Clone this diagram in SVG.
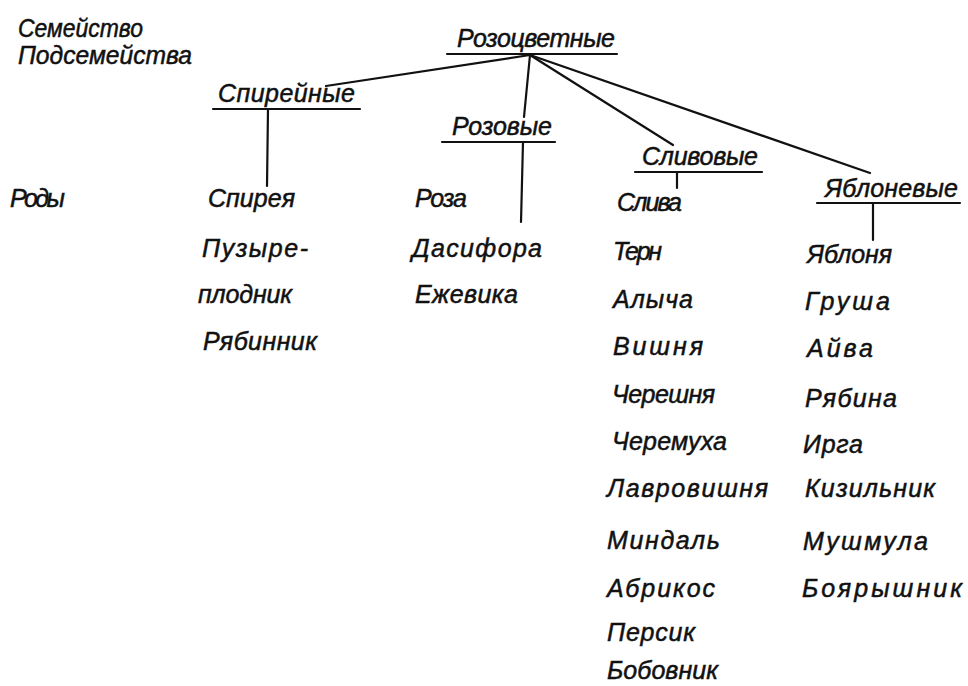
<svg xmlns="http://www.w3.org/2000/svg" width="968" height="686" viewBox="0 0 968 686">
<style>
text{font-family:"Liberation Sans",Arial,sans-serif;font-style:italic;font-size:25px;fill:#111;stroke:#111;stroke-width:0.5}
.ln{stroke:#111;stroke-width:2.2;fill:none;stroke-linecap:round}
</style>
<rect width="968" height="686" fill="#fff"/>
<g id="labels">
<text x="18" y="37" textLength="125" lengthAdjust="spacingAndGlyphs">Семейство</text>
<text x="18" y="64" textLength="174" lengthAdjust="spacingAndGlyphs">Подсемейства</text>
<text x="10" y="207" textLength="55" lengthAdjust="spacing">Роды</text>
</g>
<g id="connectors">
<line class="ln" x1="447" y1="54" x2="617" y2="54"/>
<line class="ln" x1="530" y1="55" x2="326" y2="86"/>
<line class="ln" x1="530" y1="55" x2="524" y2="117"/>
<line class="ln" x1="530" y1="55" x2="673" y2="145"/>
<line class="ln" x1="530" y1="55" x2="870" y2="173"/>
<line class="ln" x1="213" y1="109" x2="360" y2="109"/>
<line class="ln" x1="268" y1="109" x2="267" y2="186"/>
<line class="ln" x1="442" y1="142" x2="555" y2="142"/>
<line class="ln" x1="523" y1="142" x2="521" y2="222"/>
<line class="ln" x1="635" y1="172" x2="762" y2="172"/>
<line class="ln" x1="677" y1="172" x2="677" y2="188"/>
<line class="ln" x1="817" y1="203" x2="960" y2="203"/>
<line class="ln" x1="873" y1="203" x2="873" y2="240"/>
</g>
<g id="n-rosaceae"><text x="457" y="47" textLength="158" lengthAdjust="spacing">Розоцветные</text></g>
<g id="n-spiraeoideae"><text x="218" y="102" textLength="137" lengthAdjust="spacing">Спирейные</text></g>
<g id="n-rosoideae"><text x="452" y="135" textLength="100" lengthAdjust="spacing">Розовые</text></g>
<g id="n-prunoideae"><text x="642" y="165" textLength="116" lengthAdjust="spacing">Сливовые</text></g>
<g id="n-maloideae"><text x="825" y="197" textLength="133" lengthAdjust="spacing">Яблоневые</text></g>
<g id="g-spiraea">
<text x="208" y="207" textLength="87" lengthAdjust="spacing">Спирея</text>
<text x="202" y="257" textLength="106" lengthAdjust="spacing">Пузыре-</text>
<text x="198" y="303" textLength="94" lengthAdjust="spacing">плодник</text>
<text x="203" y="350" textLength="114" lengthAdjust="spacing">Рябинник</text>
</g>
<g id="g-rosa">
<text x="415" y="207" textLength="52" lengthAdjust="spacing">Роза</text>
<text x="412" y="257" textLength="130" lengthAdjust="spacing">Дасифора</text>
<text x="415" y="303" textLength="103" lengthAdjust="spacing">Ежевика</text>
</g>
<g id="g-prunus">
<text x="617" y="211" textLength="65" lengthAdjust="spacing">Слива</text>
<text x="613" y="260" textLength="49" lengthAdjust="spacing">Терн</text>
<text x="613" y="308" textLength="80" lengthAdjust="spacing">Алыча</text>
<text x="613" y="355" textLength="90" lengthAdjust="spacing">Вишня</text>
<text x="612" y="403" textLength="103" lengthAdjust="spacing">Черешня</text>
<text x="612" y="450" textLength="115" lengthAdjust="spacing">Черемуха</text>
<text x="607" y="497" textLength="161" lengthAdjust="spacing">Лавровишня</text>
<text x="607" y="549" textLength="113" lengthAdjust="spacing">Миндаль</text>
<text x="607" y="597" textLength="108" lengthAdjust="spacing">Абрикос</text>
<text x="607" y="641" textLength="88" lengthAdjust="spacing">Персик</text>
<text x="607" y="679" textLength="111" lengthAdjust="spacing">Бобовник</text>
</g>
<g id="g-malus">
<text x="807" y="263" textLength="85" lengthAdjust="spacing">Яблоня</text>
<text x="805" y="310" textLength="85" lengthAdjust="spacing">Груша</text>
<text x="807" y="357" textLength="66" lengthAdjust="spacing">Айва</text>
<text x="805" y="407" textLength="92" lengthAdjust="spacing">Рябина</text>
<text x="803" y="453" textLength="60" lengthAdjust="spacing">Ирга</text>
<text x="805" y="497" textLength="130" lengthAdjust="spacing">Кизильник</text>
<text x="803" y="550" textLength="125" lengthAdjust="spacing">Мушмула</text>
<text x="802" y="597" textLength="160" lengthAdjust="spacing">Боярышник</text>
</g>
</svg>
